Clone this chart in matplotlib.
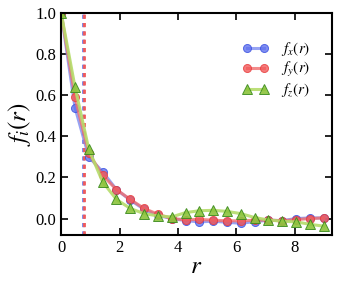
import matplotlib
matplotlib.use('Agg')
import matplotlib.pyplot as plt
import numpy as np

plt.rcParams['font.family'] = 'Liberation Serif'
plt.rcParams['mathtext.fontset'] = 'stix'

# distances r (20 equally spaced samples)
r = np.linspace(0, 9, 20)

fx = [1.0, 0.54, 0.30, 0.227, 0.141, 0.09, 0.045, 0.015, 0.0, -0.01,
      -0.016, -0.013, -0.018, -0.023, -0.015, -0.008, -0.01, 0.0, 0.003, 0.003]
fy = [1.0, 0.59, 0.317, 0.21, 0.141, 0.093, 0.049, 0.021, 0.0, -0.006,
      -0.004, -0.008, -0.011, -0.011, -0.008, -0.007, -0.011, -0.005, 0.0, 0.003]
fz = [1.0, 0.64, 0.337, 0.178, 0.093, 0.049, 0.024, 0.013, 0.008, 0.029,
      0.038, 0.04, 0.035, 0.024, 0.005, -0.007, -0.013, -0.016, -0.028, -0.037]

r_cut = 0.76

fig = plt.figure(figsize=(3.38, 2.88), dpi=100)
ax = fig.add_axes([0.181, 0.184, 0.801, 0.771])

ax.axvline(r_cut - 0.015, color='#7080e8', ls=(0, (1.5, 1.5)), lw=2.0, zorder=1)
ax.axvline(r_cut + 0.015, color='#f05a5a', ls=(0, (1.5, 1.5)), lw=2.0, zorder=1)

ax.plot(r, fx, '-o', color='#7d8cf0', lw=2.2, alpha=0.8, ms=5.8,
        mfc='#5f72ee', mec='#3a50e0', mew=0.7, label='$f_x(r)$')
ax.plot(r, fy, '-o', color='#f06e6e', lw=2.2, alpha=0.8, ms=5.8,
        mfc='#f25a5a', mec='#e83c3c', mew=0.7, label='$f_y(r)$')
ax.plot(r, fz, '-^', color='#b5dc6a', lw=2.2, alpha=0.9, ms=6.5,
        mfc='#8cc43c', mec='#3c8c1e', mew=0.7, label='$f_z(r)$')

ax.set_xlim(0, 9.28)
ax.set_ylim(-0.08, 1.0)
ax.set_xticks([0, 2, 4, 6, 8])
ax.set_yticks([0.0, 0.2, 0.4, 0.6, 0.8, 1.0])
ax.set_yticklabels(['0.0', '0.2', '0.4', '0.6', '0.8', '1.0'])
ax.tick_params(direction='in', top=True, right=True, labelsize=12,
               length=5, width=1.2)
for s in ax.spines.values():
    s.set_linewidth(1.5)

ax.set_xlabel('$r$', fontsize=18, labelpad=0)
ax.set_ylabel('$f_i(r)$', fontsize=18, labelpad=2)

ax.legend(loc='upper right', frameon=False, fontsize=11, numpoints=2,
          handlelength=1.7, labelspacing=0.15, bbox_to_anchor=(0.97, 0.94))

fig.savefig('out.png', dpi=100)
